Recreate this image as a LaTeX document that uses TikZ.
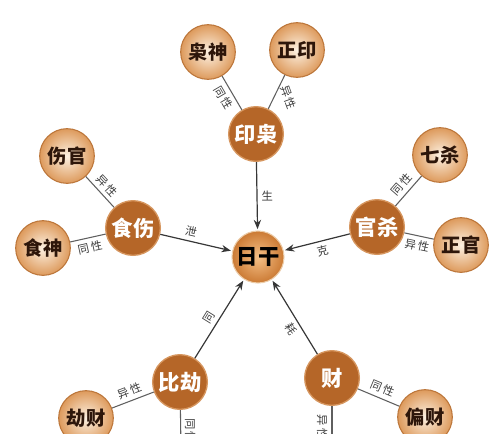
\documentclass[tikz,border=0pt]{standalone}
\usepackage{fontspec}
\newfontfamily\cjk{Noto Sans CJK SC}
\newfontfamily\cjktag{Noto Sans CJK SC}[LetterSpace=18]
\usetikzlibrary{arrows.meta}
\definecolor{rust}{RGB}{181,102,40}
\definecolor{rustring}{RGB}{214,150,95}
\definecolor{ganin}{RGB}{245,192,135}
\definecolor{ganout}{RGB}{203,122,52}
\definecolor{ganring}{RGB}{236,204,168}
\definecolor{subin}{RGB}{253,241,226}
\definecolor{subout}{RGB}{221,154,92}
\definecolor{subring}{RGB}{188,118,58}
\definecolor{relgray}{RGB}{95,95,95}
\definecolor{flowgray}{RGB}{55,55,55}
\definecolor{taggray}{RGB}{60,60,60}
\tikzset{
  gan/.style={circle,inner sep=0pt,minimum size=39pt,shading=radial,inner color=ganin,outer color=ganout,draw=ganring,line width=0.8pt,font=\cjk\bfseries\fontsize{16}{16}\selectfont},
  hub/.style={circle,inner sep=0pt,minimum size=41pt,fill=rust,draw=rustring,line width=1pt,text=white,font=\cjk\bfseries\fontsize{16}{16}\selectfont},
  leaf/.style={circle,inner sep=0pt,minimum size=41pt,shading=radial,inner color=subin,outer color=subout,draw=subring,line width=0.8pt,text={rgb,255:red,45;green,22;blue,10},font=\cjk\bfseries\fontsize{14.5}{14.5}\selectfont},
  rel/.style={draw=relgray,line width=0.8pt},
  flow/.style={draw=flowgray,line width=0.9pt,-{Stealth[length=7pt,width=5.5pt]},shorten >=1pt},
  tag/.style={font=\cjktag\fontsize{8.5}{8.5}\selectfont,text=taggray,inner sep=3pt}
}
\begin{document}
\begin{tikzpicture}[x=0.75pt,y=-0.75pt]
    \useasboundingbox (0,0) rectangle (503,433);
    \clip (0,0) rectangle (503,433);
    % day master in the middle
    \node[gan] (rigan) at (258,257) {日干};
    % five groups
    \node[hub] (yinxiao) at (256,134) {印枭};
    \node[hub] (shishang) at (133,228) {食伤};
    \node[hub] (guansha) at (377,227) {官杀};
    \node[hub] (bijie) at (180,382) {比劫};
    \node[hub] (cai) at (332,378) {财};
    % the ten gods
    \node[leaf] (xiaoshen) at (208,52) {枭神};
    \node[leaf] (zhengyin) at (297,50) {正印};
    \node[leaf] (shangguan) at (67,156) {伤官};
    \node[leaf] (shishen) at (43,248) {食神};
    \node[leaf] (qisha) at (440,155) {七杀};
    \node[leaf] (zhengguan) at (461,245) {正官};
    \node[leaf] (jiecai) at (86,418) {劫财};
    \node[leaf] (piancai) at (425,417) {偏财};
    \coordinate (bijiedown) at (181,450);
    \coordinate (caidown) at (332,450);
    % same / other sex
    \draw[rel] (xiaoshen) -- node[tag,sloped,below] {同性} (yinxiao);
    \draw[rel] (yinxiao) -- node[tag,xshift=9pt,yshift=-4pt,rotate=-70] {异性} (zhengyin);
    \draw[rel] (shangguan) -- node[tag,sloped,above] {异性} (shishang);
    \draw[rel] (shishen) -- node[tag,sloped,below] {同性} (shishang);
    \draw[rel] (guansha) -- node[tag,sloped,above] {同性} (qisha);
    \draw[rel] (guansha) -- node[tag,sloped,below] {异性} (zhengguan);
    \draw[rel] (jiecai) -- node[tag,sloped,above] {异性} (bijie);
    \draw[rel] (cai) -- node[tag,sloped,above] {同性} (piancai);
    \draw[rel] (bijie) -- node[tag,pos=.1,rotate=-90,anchor=south west] {同性} (bijiedown);
    \draw[rel] (cai) -- node[tag,pos=.1,rotate=-90,anchor=north west] {异性} (caidown);
    % towards the day master
    \draw[flow] (yinxiao) -- node[tag,right] {生} (rigan);
    \draw[flow] (shishang) -- node[tag,sloped,above,pos=.4] {泄} (rigan);
    \draw[flow] (guansha) -- node[tag,sloped,below,pos=.45] {克} (rigan);
    \draw[flow] (bijie) -- node[tag,sloped,above,pos=.45] {同} (rigan);
    \draw[flow] (cai) -- node[tag,sloped,below,pos=.4] {耗} (rigan);
\end{tikzpicture}
\end{document}
